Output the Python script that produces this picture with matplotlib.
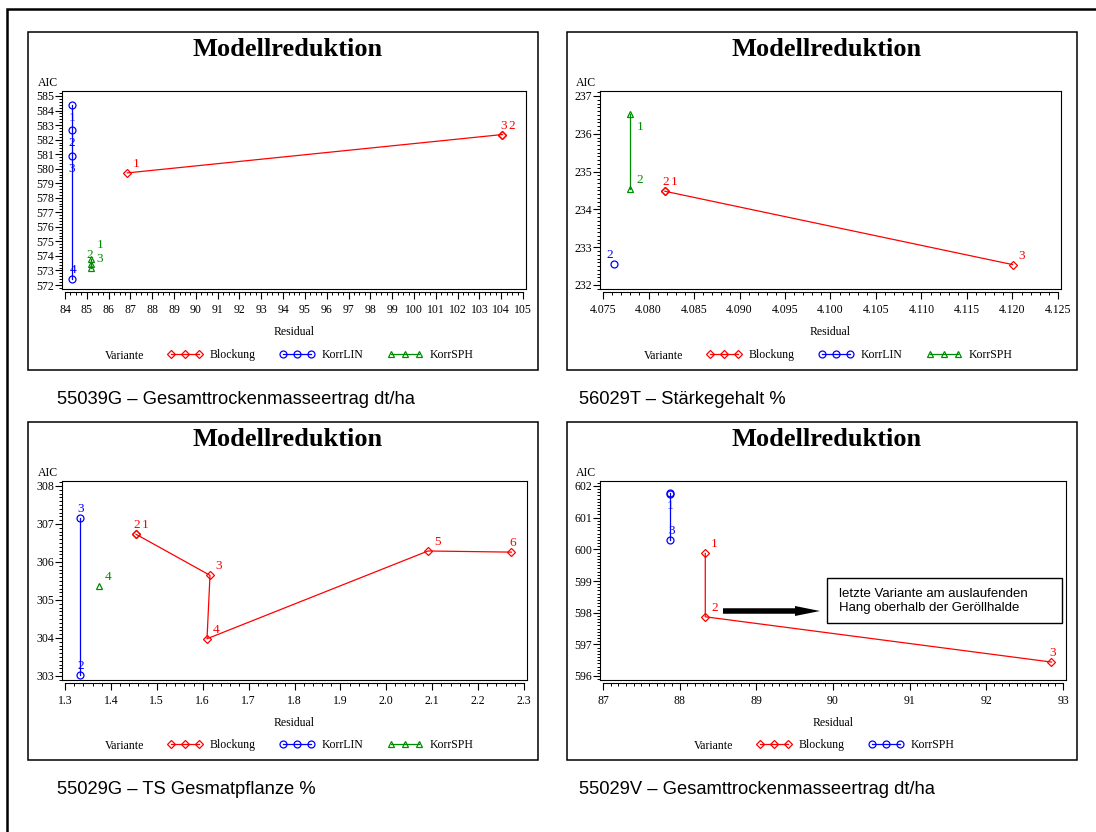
import numpy as np
import matplotlib
matplotlib.use('Agg')
import matplotlib.pyplot as plt
from matplotlib.patches import Rectangle, FancyArrow
from matplotlib.ticker import AutoMinorLocator, FormatStrFormatter

plt.rcParams['font.family'] = ['Liberation Serif', 'DejaVu Serif']

W, H = 1096, 832

# 55039G - Gesamttrockenmasseertrag dt/ha
p1_blk_step = [1, 2, 3]
p1_blk_res = [86.86, 104.06, 104.06]
p1_blk_aic = [579.71, 582.35, 582.35]
p1_lin_step = [1, 2, 3, 4]
p1_lin_res = [84.31, 84.31, 84.31, 84.31]
p1_lin_aic = [584.36, 582.67, 580.85, 572.39]
p1_sph_step = [1, 2, 3]
p1_sph_res = [85.18, 85.18, 85.18]
p1_sph_aic = [573.78, 573.44, 573.17]

# 56029T - Staerkegehalt %
p2_blk_step = [1, 2, 3]
p2_blk_res = [4.0818, 4.0818, 4.1200]
p2_blk_aic = [234.48, 234.48, 232.54]
p2_lin_step = [2]
p2_lin_res = [4.0762]
p2_lin_aic = [232.56]
p2_sph_step = [1, 2]
p2_sph_res = [4.0780, 4.0780]
p2_sph_aic = [236.53, 234.54]

# 55029G - TS Gesmatpflanze %
p3_blk_step = [1, 2, 3, 4, 5, 6]
p3_blk_res = [1.4547, 1.4547, 1.6159, 1.6094, 2.0909, 2.2724]
p3_blk_aic = [306.73, 306.73, 305.65, 303.98, 306.29, 306.26]
p3_lin_step = [2, 3]
p3_lin_res = [1.3327, 1.3327]
p3_lin_aic = [303.03, 307.17]
p3_sph_step = [4]
p3_sph_res = [1.3733]
p3_sph_aic = [305.38]

# 55029V - Gesamttrockenmasseertrag dt/ha
p4_blk_step = [1, 2, 3]
p4_blk_res = [88.334, 88.334, 92.85]
p4_blk_aic = [599.87, 597.87, 596.44]
p4_sph_step = [1, 2, 3]
p4_sph_res = [87.88, 87.88, 87.88]
p4_sph_aic = [601.77, 601.75, 600.29]

captions = ['55039G \u2013 Gesamttrockenmasseertrag dt/ha',
            '56029T \u2013 St\u00e4rkegehalt %',
            '55029G \u2013 TS Gesmatpflanze %',
            '55029V \u2013 Gesamttrockenmasseertrag dt/ha']
note = 'letzte Variante am auslaufenden\nHang oberhalb der Ger\u00f6llhalde'

# where the step label sits next to its point (pixels, y up)
OFF = {'ur': (9, 9), 'ur+': (9, 14), 'u': (1, 9), 'u-': (-1, 9), 'ul': (-4, 9),
       'd': (0, -13), 'dr': (10, -13)}

styles = [('#ff0000', 'D', 4.0), ('#0000ff', 'o', 5.0), ('#008c00', '^', 5.0)]

panels = [
    dict(box=(28, 32, 538, 370), ax=(62, 91, 526, 289), xt=(84, 105, 1), yt=(572, 585, 1),
         xfmt='%d', xminor=4, yminor=5, cap=captions[0],
         series=[('Blockung', p1_blk_step, p1_blk_res, p1_blk_aic, ['ur', 'ur', 'u']),
                 ('KorrLIN', p1_lin_step, p1_lin_res, p1_lin_aic, ['d', 'd', 'd', 'u']),
                 ('KorrSPH', p1_sph_step, p1_sph_res, p1_sph_aic, ['ur+', 'u-', 'ur'])]),
    dict(box=(567, 32, 1077, 370), ax=(600, 91, 1061, 289), xt=(4.075, 4.125, 0.005), yt=(232, 237, 1),
         xfmt='%.3f', xminor=5, yminor=10, cap=captions[1],
         series=[('Blockung', p2_blk_step, p2_blk_res, p2_blk_aic, ['ur', 'u', 'ur']),
                 ('KorrLIN', p2_lin_step, p2_lin_res, p2_lin_aic, ['ul']),
                 ('KorrSPH', p2_sph_step, p2_sph_res, p2_sph_aic, ['dr', 'ur'])]),
    dict(box=(28, 422, 538, 760), ax=(62, 481, 527, 680), xt=(1.3, 2.3, 0.1), yt=(303, 308, 1),
         xfmt='%.1f', xminor=5, yminor=10, cap=captions[2],
         series=[('Blockung', p3_blk_step, p3_blk_res, p3_blk_aic, ['ur', 'u', 'ur', 'ur', 'ur', 'u']),
                 ('KorrLIN', p3_lin_step, p3_lin_res, p3_lin_aic, ['u', 'u']),
                 ('KorrSPH', p3_sph_step, p3_sph_res, p3_sph_aic, ['ur'])]),
    dict(box=(567, 422, 1077, 760), ax=(600, 481, 1066, 680), xt=(87, 93, 1), yt=(596, 602, 1),
         xfmt='%d', xminor=10, yminor=10, cap=captions[3],
         series=[('Blockung', p4_blk_step, p4_blk_res, p4_blk_aic, ['ur', 'ur', 'u']),
                 ('KorrSPH', p4_sph_step, p4_sph_res, p4_sph_aic, ['d', None, 'u'])]),
]

sans = 'Liberation Sans'

fig = plt.figure(figsize=(W / 100, H / 100), dpi=100)
fig.patch.set_facecolor('white')

canvas = fig.add_axes([0, 0, 1, 1], zorder=10)
canvas.set_xlim(0, W)
canvas.set_ylim(H, 0)
canvas.axis('off')
canvas.patch.set_alpha(0)

# outer frame, only left and top edges are inside the picture
canvas.plot([7, 7, W + 5], [H + 5, 9, 9], color='black', lw=1.8, solid_joinstyle='miter')

for p in panels:
    bl, bt, br, bb = p['box']
    l, t, r, b = p['ax']
    ax = fig.add_axes([l / W, 1 - b / H, (r - l) / W, (b - t) / H])

    x0, x1, xs = p['xt']
    y0, y1, ys = p['yt']
    upp = (x1 - x0) / (r - l - 6)
    ax.set_xlim(x0 - 3 * upp, x1 + 3 * upp)
    upp = (y1 - y0) / (b - t - 9)
    ax.set_ylim(y0 - 4 * upp, y1 + 5 * upp)
    ax.set_xticks(np.arange(x0, x1 + xs / 2, xs))
    ax.set_yticks(np.arange(y0, y1 + ys / 2, ys))
    ax.xaxis.set_major_formatter(FormatStrFormatter(p['xfmt']))
    ax.yaxis.set_major_formatter(FormatStrFormatter('%d'))
    ax.xaxis.set_minor_locator(AutoMinorLocator(p['xminor']))
    ax.yaxis.set_minor_locator(AutoMinorLocator(p['yminor']))
    ax.tick_params(which='major', direction='out', length=5, width=0.8, labelsize=8.5, colors='black')
    ax.tick_params(which='minor', direction='out', length=2.5, width=0.7)
    ax.tick_params(axis='x', which='major', pad=3.5)
    ax.tick_params(axis='y', which='major', pad=0.5)
    for sp in ax.spines.values():
        sp.set_linewidth(0.8)
    ax.spines['bottom'].set_position(('outward', 2))
    ax.spines['bottom'].set_bounds(x0, x1)
    ax.plot([0, 1], [0, 0], transform=ax.transAxes, color='black', lw=0.8, clip_on=False)

    handles, names = [], []
    for i, (name, steps, res, aic, labs) in enumerate(p['series']):
        color, mk, ms = styles[i]
        ln, = ax.plot(res, aic, color=color, lw=0.9, marker=mk, ms=ms, mfc='none',
                      mec=color, mew=0.9, clip_on=False)
        handles.append(ln)
        names.append(name)
        for s, xv, yv, code in zip(steps, res, aic, labs):
            if code is None:
                continue
            ax.annotate(str(s), (xv, yv), xytext=OFF[code], textcoords='offset pixels',
                        ha='center', va='center', color=color, fontsize=9.5,
                        annotation_clip=False)

    # panel frame, title, axis labels, caption
    canvas.add_patch(Rectangle((bl, bt), br - bl, bb - bt, fill=False, ec='black', lw=1.1))
    canvas.text((bl + br) / 2 + 5, bt + 17, 'Modellreduktion', ha='center', va='center',
                fontsize=19, fontweight='bold')
    canvas.text(l - 24, t - 8, 'AIC', ha='left', va='center', fontsize=8.5)
    canvas.text((l + r) / 2, b + 43, 'Residual', ha='center', va='center', fontsize=8.5)
    canvas.text(57 if bl < 300 else 579, bb + 29, p['cap'], ha='left', va='center',
                fontsize=13.2, family=sans)

    # legend row
    lx = bl + (139 if len(handles) == 3 else 189)
    ly = bb - 15
    canvas.text(lx - 42, ly + 1, 'Variante', ha='center', va='center', fontsize=8.5)
    ax.legend(handles, names, loc='center left', bbox_to_anchor=(lx, ly),
              bbox_transform=canvas.transData, ncol=len(handles), frameon=False,
              numpoints=3, handlelength=3.0, handletextpad=0.6, columnspacing=2.0,
              borderpad=0, borderaxespad=0, prop=dict(size=8.5))

# note in the last panel
canvas.add_patch(FancyArrow(723, 611, 97, 0, width=5.5, head_width=10, head_length=25,
                            length_includes_head=True, color='black', lw=0))
canvas.add_patch(Rectangle((827, 578), 235, 45, fc='white', ec='black', lw=1.0))
canvas.text(839, 601, note, ha='left', va='center', fontsize=9.5, family=sans, linespacing=1.25)

fig.savefig('out.png', dpi=100)
